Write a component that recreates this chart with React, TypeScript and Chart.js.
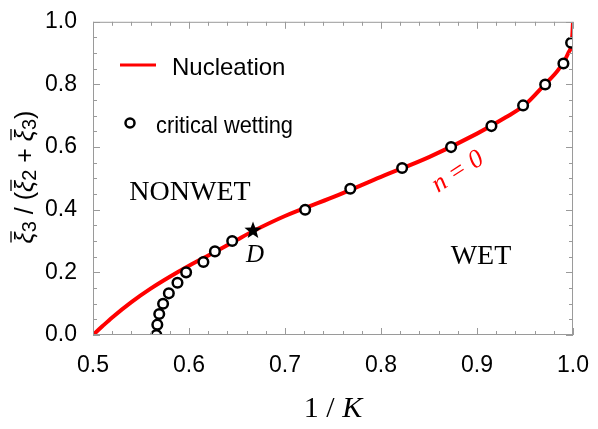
import React, { useEffect, useRef } from "react";
import { Chart, registerables } from "chart.js";
Chart.register(...registerables);

// Nucleation curve (n = 0)
const curveX = [0.5, 0.51, 0.52, 0.54, 0.56, 0.58, 0.6, 0.625, 0.65, 0.667, 0.7, 0.75, 0.8, 0.85, 0.9, 0.93, 0.95, 0.97, 0.985, 0.995, 0.999, 1.0];
const curveY = [0.0, 0.0285, 0.056, 0.105, 0.148, 0.186, 0.221, 0.262, 0.304, 0.332, 0.38, 0.44, 0.505, 0.568, 0.643, 0.695, 0.735, 0.798, 0.848, 0.9, 0.945, 1.0];

// critical wetting points
const wetX = [0.566, 0.567, 0.569, 0.573, 0.579, 0.588, 0.597, 0.615, 0.627, 0.645, 0.721, 0.768, 0.822, 0.873, 0.915, 0.948, 0.971, 0.99, 0.998];
const wetY = [0.0, 0.033, 0.067, 0.1, 0.133, 0.167, 0.2, 0.233, 0.267, 0.3, 0.4, 0.467, 0.533, 0.6, 0.667, 0.733, 0.8, 0.867, 0.933];

// point D
const starX = [2 / 3];
const starY = [1 / 3];

const xMajor = [0.5, 0.6, 0.7, 0.8, 0.9, 1.0];
const yMajor = [0.0, 0.2, 0.4, 0.6, 0.8, 1.0];
const xMinorStep = 0.02;
const yMinorStep = 0.05;

const SANS = "'Liberation Sans', Arial, sans-serif";
const SERIF = "'Liberation Serif', 'Times New Roman', serif";

function drawStar(ctx: CanvasRenderingContext2D, cx: number, cy: number, R: number, r: number) {
  ctx.beginPath();
  for (let i = 0; i < 10; i++) {
    const rad = i % 2 === 0 ? R : r;
    const a = -Math.PI / 2 + (i * Math.PI) / 5;
    const px = cx + rad * Math.cos(a);
    const py = cy + rad * Math.sin(a);
    if (i === 0) ctx.moveTo(px, py);
    else ctx.lineTo(px, py);
  }
  ctx.closePath();
  ctx.fill();
}

const decorPlugin = {
  id: "decor",
  afterDraw(chart: any) {
    const ctx: CanvasRenderingContext2D = chart.ctx;
    const xs = chart.scales.x;
    const ys = chart.scales.y;
    const { left, right, top, bottom } = chart.chartArea;
    ctx.save();
    // frame
    ctx.strokeStyle = "#9a9a9a";
    ctx.lineWidth = 1;
    ctx.strokeRect(left + 0.5, top + 0.5, right - left - 1, bottom - top - 1);
    // ticks
    ctx.beginPath();
    const nx = Math.round((1.0 - 0.5) / xMinorStep);
    for (let i = 0; i <= nx; i++) {
      const v = 0.5 + i * xMinorStep;
      const isMajor = xMajor.some((m) => Math.abs(m - v) < 1e-6);
      const len = isMajor ? 7 : 4;
      const px = Math.round(xs.getPixelForValue(v)) + 0.5;
      ctx.moveTo(px, bottom);
      ctx.lineTo(px, bottom - len);
      ctx.moveTo(px, top);
      ctx.lineTo(px, top + len);
    }
    const ny = Math.round(1.0 / yMinorStep);
    for (let i = 0; i <= ny; i++) {
      const v = i * yMinorStep;
      const isMajor = yMajor.some((m) => Math.abs(m - v) < 1e-6);
      const len = isMajor ? 7 : 4;
      const py = Math.round(ys.getPixelForValue(v)) + 0.5;
      ctx.moveTo(left, py);
      ctx.lineTo(left + len, py);
      ctx.moveTo(right, py);
      ctx.lineTo(right - len, py);
    }
    ctx.stroke();

    // star D
    ctx.fillStyle = "#000";
    drawStar(ctx, xs.getPixelForValue(starX[0]), ys.getPixelForValue(starY[0]), 9, 3.8);

    // annotations
    ctx.fillStyle = "#000";
    ctx.textAlign = "center";
    ctx.textBaseline = "alphabetic";
    ctx.font = `28px ${SERIF}`;
    ctx.fillText("NONWET", 190, 200);
    ctx.fillText("WET", 481, 264);
    ctx.font = `italic 25px ${SERIF}`;
    ctx.fillText("D", 255, 262);

    // n = 0 rotated
    ctx.save();
    ctx.translate(458, 172);
    ctx.rotate(-Math.PI * 33 / 180);
    ctx.fillStyle = "#ff0000";
    ctx.font = `italic 26px ${SERIF}`;
    ctx.textAlign = "center";
    ctx.textBaseline = "middle";
    ctx.fillText("n = 0", 0, 0);
    ctx.restore();

    // legend
    ctx.strokeStyle = "#ff0000";
    ctx.lineWidth = 3;
    ctx.beginPath();
    ctx.moveTo(120, 65);
    ctx.lineTo(156, 65);
    ctx.stroke();
    ctx.fillStyle = "#000";
    ctx.textAlign = "left";
    ctx.textBaseline = "alphabetic";
    ctx.font = `24px ${SANS}`;
    ctx.fillText("Nucleation", 172, 75, 115);
    ctx.beginPath();
    ctx.arc(130, 123, 4.5, 0, Math.PI * 2);
    ctx.fillStyle = "#fff";
    ctx.fill();
    ctx.lineWidth = 2.5;
    ctx.strokeStyle = "#000";
    ctx.stroke();
    ctx.fillStyle = "#000";
    ctx.fillText("critical wetting", 156, 133, 137);

    // x title: 1 / K
    ctx.textBaseline = "alphabetic";
    const p1 = "1 / ";
    ctx.font = `30px ${SERIF}`;
    const w1 = ctx.measureText(p1).width;
    ctx.font = `italic 30px ${SERIF}`;
    const w2 = ctx.measureText("K").width;
    const sx = (left + right) / 2 - (w1 + w2) / 2;
    ctx.font = `30px ${SERIF}`;
    ctx.fillText(p1, sx, 417);
    ctx.font = `italic 30px ${SERIF}`;
    ctx.fillText("K", sx + w1, 417);

    // y title
    ctx.save();
    ctx.translate(33, 177);
    ctx.rotate(-Math.PI / 2);
    const big = `25px ${SANS}`;
    const xi = `italic 25px ${SANS}`;
    const sub = `20px ${SANS}`;
    const pieces: { t: string; f: string; dy: number; bar?: boolean }[] = [
      { t: "ξ", f: xi, dy: 0, bar: true },
      { t: "3", f: sub, dy: 3 },
      { t: " / (", f: big, dy: 0 },
      { t: "ξ", f: xi, dy: 0, bar: true },
      { t: "2", f: sub, dy: 3 },
      { t: " + ", f: big, dy: 0 },
      { t: "ξ", f: xi, dy: 0, bar: true },
      { t: "3", f: sub, dy: 3 },
      { t: ")", f: big, dy: 0 },
    ];
    let total = 0;
    const widths: number[] = [];
    for (const p of pieces) {
      ctx.font = p.f;
      const w = ctx.measureText(p.t).width;
      widths.push(w);
      total += w;
    }
    let u = -total / 2;
    ctx.fillStyle = "#000";
    ctx.strokeStyle = "#000";
    ctx.lineWidth = 1.3;
    ctx.textAlign = "left";
    pieces.forEach((p, i) => {
      ctx.font = p.f;
      ctx.fillText(p.t, u, p.dy);
      if (p.bar) {
        ctx.beginPath();
        ctx.moveTo(u + 1, -22);
        ctx.lineTo(u + widths[i] + 1, -22);
        ctx.stroke();
      }
      u += widths[i];
    });
    ctx.restore();

    ctx.restore();
  },
};

export default function App() {
  const ref = useRef<HTMLCanvasElement | null>(null);
  useEffect(() => {
    document.body.style.margin = "0";
    const canvas = ref.current!;
    const chart = new Chart(canvas, {
      type: "scatter",
      data: {
        datasets: [
          {
            label: "Nucleation",
            data: curveX.map((x, i) => ({ x, y: curveY[i] })),
            showLine: true,
            borderColor: "#ff0000",
            borderWidth: 4,
            pointRadius: 0,
            cubicInterpolationMode: "monotone",
            order: 2,
          } as any,
          {
            label: "critical wetting",
            data: wetX.map((x, i) => ({ x, y: wetY[i] })),
            showLine: false,
            pointRadius: 4.8,
            pointBorderWidth: 2.5,
            pointBackgroundColor: "#ffffff",
            pointBorderColor: "#000000",
            order: 1,
          } as any,
        ],
      },
      options: {
        responsive: false,
        animation: false,
        layout: { padding: { top: 14, right: 21, left: 0, bottom: 0 } },
        plugins: { legend: { display: false }, tooltip: { enabled: false } },
        scales: {
          x: {
            type: "linear",
            min: 0.5,
            max: 1.0,
            grid: { display: false },
            border: { display: false },
            ticks: {
              stepSize: 0.1,
              padding: 9,
              color: "#000",
              font: { family: SANS, size: 23 },
              callback: (v: any) => Number(v).toFixed(1),
              maxRotation: 0,
            },
            afterFit: (s: any) => {
              s.height = 94;
            },
          },
          y: {
            type: "linear",
            min: 0,
            max: 1.0,
            grid: { display: false },
            border: { display: false },
            ticks: {
              stepSize: 0.2,
              padding: 8,
              color: "#000",
              font: { family: SANS, size: 23 },
              callback: (v: any) => Number(v).toFixed(1),
            },
            afterFit: (s: any) => {
              s.width = 93;
            },
          },
        },
      },
      plugins: [decorPlugin],
    });
    return () => chart.destroy();
  }, []);
  return <canvas ref={ref} width={598} height={429} style={{ display: "block" }} />;
}
